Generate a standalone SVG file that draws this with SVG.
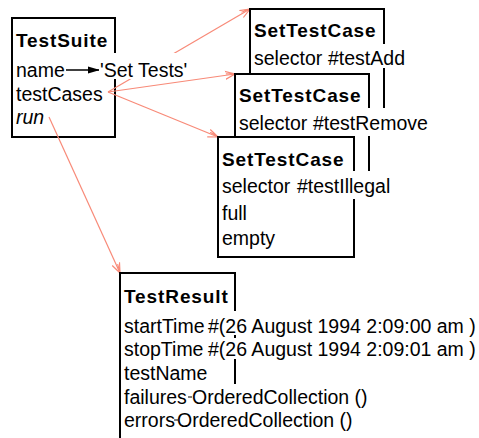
<svg xmlns="http://www.w3.org/2000/svg" width="479" height="438" viewBox="0 0 479 438">
<style>
.box{fill:#fff;stroke:#000;stroke-width:2}
.t{font-family:"Liberation Sans",Arial,sans-serif;font-size:19.5px;fill:#000}
.b{font-family:"Liberation Sans",Arial,sans-serif;font-size:19px;font-weight:bold;letter-spacing:0.9px;fill:#000}
.i{font-style:italic}
.bg{fill:#fff;stroke:none}
.red{stroke:#f88a78;stroke-width:1.2;fill:none}
</style>
<defs>
<marker id="ra" markerWidth="12" markerHeight="10" refX="10" refY="5" orient="auto" markerUnits="userSpaceOnUse">
<path d="M0,1 L10,5 L0,9 M1,3.5 L10,5" fill="none" stroke="#f88a78" stroke-width="1.2"/>
</marker>
<marker id="ba" markerWidth="14" markerHeight="10" refX="12" refY="5" orient="auto" markerUnits="userSpaceOnUse">
<path d="M0,1.5 L12,5 L0,8.5 Z" fill="#000"/>
</marker>
</defs>
<rect width="479" height="438" fill="#fff"/>

<g id="TestSuite">
<rect class="box" x="12" y="18" width="103" height="119"/>
<text class="b" x="16" y="47">TestSuite</text>
<text class="t" x="16" y="77">name</text>
<text class="t" x="16" y="101">testCases</text>
<text class="t i" x="16" y="124">run</text>
</g>

<g id="connectors">
<line class="red" x1="108" y1="92" x2="250" y2="9" marker-end="url(#ra)"/>
<line class="red" x1="108" y1="92" x2="235" y2="74" marker-end="url(#ra)"/>
<line class="red" x1="108" y1="92" x2="218" y2="137" marker-end="url(#ra)"/>
<line class="red" x1="49" y1="117" x2="120" y2="273" marker-end="url(#ra)"/>
<line x1="66" y1="70" x2="100" y2="70" stroke="#000" stroke-width="1.5" marker-end="url(#ba)"/>
</g>

<g id="SetTestsValue">
<rect class="bg" x="99" y="53" width="95" height="26"/>
<text class="t" x="100" y="77">'Set Tests'</text>
</g>

<g id="SetTestCase1">
<rect class="box" x="250" y="9" width="134" height="120"/>
<text class="b" x="254" y="37">SetTestCase</text>
<text class="t" x="254" y="65">selector</text>
<rect class="bg" x="327" y="44" width="80" height="24"/>
<text class="t" x="328" y="65">#testAdd</text>
</g>

<g id="SetTestCase2">
<rect class="box" x="235" y="74" width="134" height="120"/>
<text class="b" x="239" y="102">SetTestCase</text>
<text class="t" x="239" y="130">selector</text>
<rect class="bg" x="312" y="108" width="114" height="28"/>
<text class="t" x="313" y="130">#testRemove</text>
</g>

<g id="SetTestCase3">
<rect class="box" x="218" y="137" width="136" height="120"/>
<text class="b" x="222" y="166">SetTestCase</text>
<text class="t" x="222" y="193">selector</text>
<rect class="bg" x="296" y="171" width="91" height="28"/>
<text class="t" x="297" y="193">#testIllegal</text>
<text class="t" x="222" y="220">full</text>
<text class="t" x="222" y="245">empty</text>
</g>

<g id="TestResult">
<rect class="box" x="120" y="273" width="115" height="200"/>
<text class="b" x="124" y="303">TestResult</text>
<text class="t" x="124" y="333">startTime</text>
<rect class="bg" x="208" y="311" width="271" height="24"/>
<text class="t" x="208" y="333">#(26 August 1994 2:09:00 am )</text>
<text class="t" x="124" y="356">stopTime</text>
<rect class="bg" x="208" y="338" width="271" height="21"/>
<text class="t" x="208" y="356">#(26 August 1994 2:09:01 am )</text>
<text class="t" x="124" y="380">testName</text>
<text class="t" x="124" y="404">failures</text>
<rect class="bg" x="190" y="384" width="182" height="54"/>
<line x1="188" y1="397" x2="192" y2="397" stroke="#000" stroke-width="1"/>
<text class="t" x="192" y="404">OrderedCollection ()</text>
<text class="t" x="124" y="427">errors</text>
<rect class="bg" x="176" y="408" width="196" height="30"/>
<line x1="174" y1="420" x2="178" y2="420" stroke="#000" stroke-width="1"/>
<text class="t" x="177" y="427">OrderedCollection ()</text>
</g>
</svg>
